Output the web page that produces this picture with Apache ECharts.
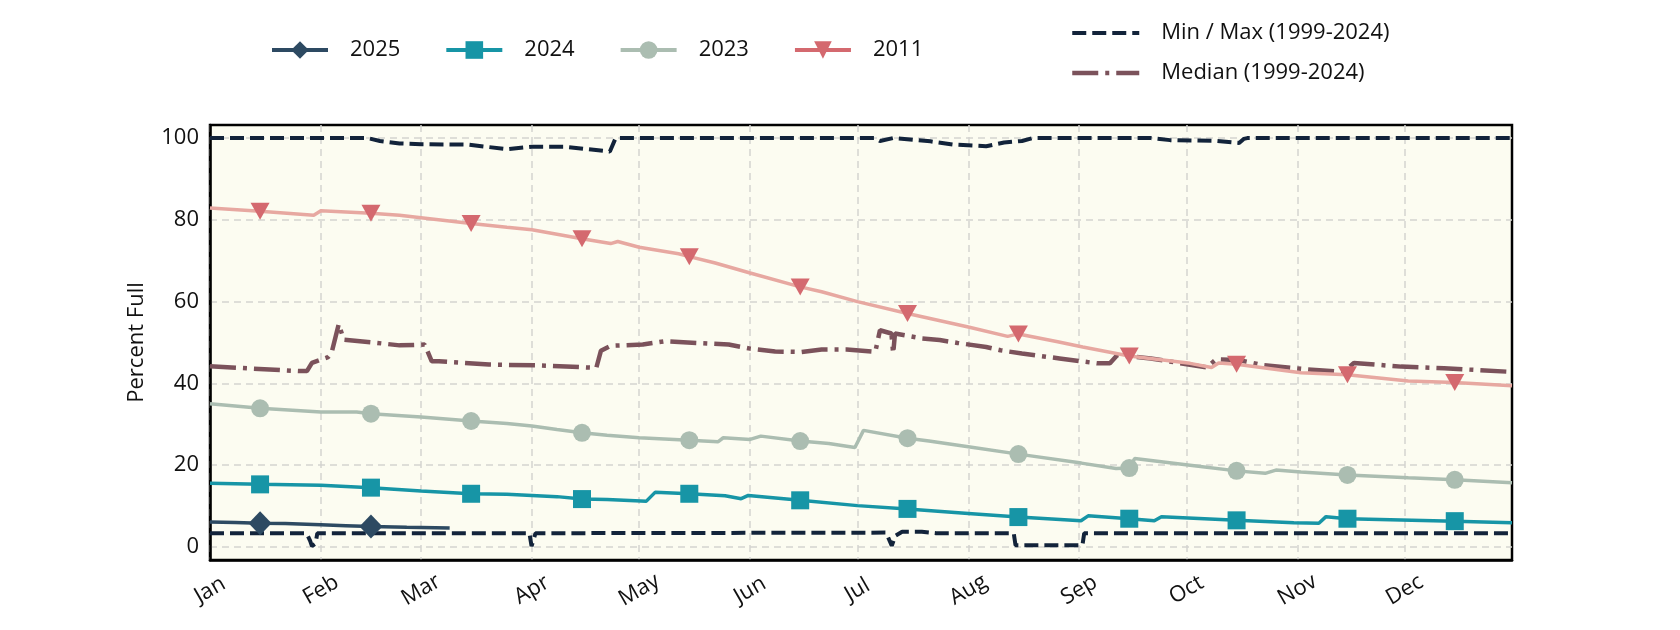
<!DOCTYPE html>
<html><head><meta charset="utf-8">
<script src="https://cdn.jsdelivr.net/npm/echarts@6/dist/echarts.min.js"></script>
<style>html,body{margin:0;padding:0;background:#fff}#c{width:1680px;height:630px}</style>
</head><body><div id="c"></div>
<script>
const FONT = 'Open Sans';
const monthNames = ['Jan','Feb','Mar','Apr','May','Jun','Jul','Aug','Sep','Oct','Nov','Dec'];
const yTicks = [0, 20, 40, 60, 80, 100];
// marker positions: 15th of each month (day of year, 0 = Jan 1)
const markerDays = [14, 45, 73, 104, 134, 165, 195, 226, 257, 287, 318, 348];

const days2025 = [0, 7, 14, 21, 31, 38, 45, 55, 67];
const vals2025 = [6.1, 6.0, 5.8, 5.7, 5.4, 5.2, 5.0, 4.8, 4.6];

const days2024 = [0, 14, 31, 38, 45, 59, 73, 83, 97, 104, 111, 122, 124.5, 134, 144, 148.5, 150.5, 165, 181, 195, 212, 226, 243.5, 245.5, 257, 264, 266, 287, 303, 310, 312, 318, 348, 364];
const vals2024 = [15.6, 15.3, 15.1, 14.8, 14.5, 13.7, 13.0, 12.9, 12.3, 11.7, 11.6, 11.2, 13.4, 13.0, 12.5, 11.8, 12.6, 11.4, 10.1, 9.3, 8.2, 7.3, 6.4, 7.6, 6.9, 6.4, 7.4, 6.5, 5.9, 5.8, 7.4, 6.9, 6.3, 5.9];

const days2023 = [0, 14, 31, 41, 45, 59, 73, 83, 90, 97, 104, 111, 120, 134, 142, 143.5, 151, 154, 165, 173, 180.3, 182.7, 195, 201, 212, 226, 243.6, 253.3, 257, 258.5, 274, 287, 295, 298, 305, 318, 335, 348, 364];
const vals2023 = [35.0, 33.9, 33.0, 33.0, 32.6, 31.8, 30.8, 30.2, 29.6, 28.7, 27.9, 27.3, 26.7, 26.1, 25.7, 26.7, 26.3, 27.1, 25.9, 25.3, 24.3, 28.5, 26.6, 25.9, 24.5, 22.7, 20.5, 19.2, 19.3, 21.6, 20.0, 18.6, 18.0, 18.8, 18.3, 17.6, 16.9, 16.4, 15.7];

const days2011 = [0, 14, 29, 31, 45, 53, 59, 73, 83, 90, 104, 112, 114, 120, 131, 134, 141, 151, 165, 171, 181, 195, 212, 223, 226, 237, 244, 257, 274, 280, 282, 287, 305, 318, 335, 348, 364];
const vals2011 = [82.9, 82.1, 81.1, 82.2, 81.6, 81.1, 80.5, 79.1, 78.2, 77.6, 75.4, 74.2, 74.7, 73.3, 71.7, 71.0, 69.5, 67.0, 63.6, 62.4, 60.0, 57.1, 53.8, 51.5, 52.1, 50.2, 48.9, 46.7, 44.9, 43.9, 45.0, 44.7, 42.6, 42.1, 40.6, 40.2, 39.4];

const daysMedian = [0, 12, 24.8, 27.1, 28.5, 31, 33, 34, 36, 37.4, 46.7, 53, 60, 62, 64, 78, 92, 108, 109.3, 112, 121, 127, 145, 151, 158, 165.4, 171, 178, 186, 187.3, 190.5, 191, 191.5, 199, 204, 209, 217, 221, 227, 237.5, 248, 251.6, 253.6, 263, 278.7, 281.3, 287.7, 294, 307, 317, 319.8, 333, 345, 364];
const valsMedian = [44.2, 43.6, 43.0, 43.0, 45.0, 45.8, 46.4, 47.5, 54.5, 50.7, 49.9, 49.3, 49.5, 45.4, 45.4, 44.6, 44.4, 43.8, 48.0, 49.2, 49.5, 50.3, 49.5, 48.5, 47.8, 47.7, 48.3, 48.3, 47.7, 53.0, 52.2, 47.3, 52.2, 51.0, 50.6, 49.9, 48.9, 48.1, 47.3, 46.1, 44.9, 44.9, 46.9, 46.1, 43.9, 45.9, 45.7, 44.5, 43.4, 42.8, 45.0, 44.1, 43.7, 42.8];

const daysMax = [0, 44, 47.5, 53, 59, 72, 83, 90, 99, 111.8, 113.4, 186, 187.3, 191, 201.4, 208, 217, 222, 227, 230, 263, 268.4, 281.3, 287.7, 289, 290, 364];
const valsMax = [100, 100, 99.3, 98.7, 98.5, 98.4, 97.3, 97.9, 97.9, 96.7, 100, 100, 99.3, 100, 99.2, 98.4, 98.0, 98.9, 99.3, 100, 100, 99.5, 99.3, 98.8, 99.8, 100, 100];

const daysMin = [0, 27, 28, 28.5, 29.5, 30, 89.3, 89.9, 91, 189, 190.6, 191.6, 193.5, 199, 203, 224.7, 225.2, 243.9, 244.4, 364];
const valsMin = [3.35, 3.35, 1.5, 0.2, 0.8, 3.35, 3.35, 0.2, 3.35, 3.5, 0.3, 2.7, 3.7, 3.7, 3.35, 3.35, 0.4, 0.4, 3.35, 3.35];

const BASE = new Date(2025, 0, 1).getTime();
const DAY = 86400000;
function ts(d) { return BASE + d * DAY; }
function toData(days, vals, withMarkers) {
  return days.map(function (d, i) {
    const item = { value: [ts(d), vals[i]] };
    if (!withMarkers || markerDays.indexOf(d) < 0) item.symbol = 'none';
    return item;
  });
}

const MINMAX = 'Min / Max (1999-2024)';
const MEDIAN = 'Median (1999-2024)';
const txt = { fontFamily: FONT, fontSize: 22, color: '#111' };
const gridLine = { show: true, showMinLine: false, showMaxLine: false, lineStyle: { color: '#d4d4d0', width: 1.5, type: [7, 5] } };

const chart = echarts.init(document.getElementById('c'), null, { renderer: 'canvas' });
chart.setOption({
  animation: false,
  textStyle: { fontFamily: FONT },
  grid: { left: 210, right: 168, top: 125, bottom: 70, show: true, backgroundColor: '#fcfcf1', borderColor: '#000', borderWidth: 2.5 },
  legend: [
    {
      data: ['2025', '2024', '2023', { name: '2011', lineStyle: { color: '#d4696f', opacity: 1 } }],
      left: 270, top: 39, padding: 0, itemWidth: 56, itemHeight: 22, itemGap: 44,
      lineStyle: { width: 4 },
      textStyle: Object.assign({ padding: [0, 0, 0, 17], lineHeight: 22 }, txt)
    },
    {
      data: [
        { name: MINMAX, itemStyle: { opacity: 0 }, lineStyle: { width: 4 } },
        { name: MEDIAN, itemStyle: { opacity: 0 }, lineStyle: { width: 4.5 } }
      ],
      orient: 'vertical',
      left: 1070, top: 22, padding: 0, itemWidth: 67, itemHeight: 22, itemGap: 18,
      textStyle: Object.assign({ padding: [0, 0, 0, 17], lineHeight: 22 }, txt)
    }
  ],
  xAxis: {
    type: 'time', min: ts(0), max: ts(364), splitNumber: 12, z: 2,
    axisLine: { show: true, onZero: false, lineStyle: { color: '#000', width: 2.5 } }, axisTick: { show: false },
    axisLabel: Object.assign({
      rotate: 30, align: 'center', verticalAlign: 'middle', margin: 30,
      showMinLabel: true, showMaxLabel: false,
      formatter: function (v) { return monthNames[new Date(v).getMonth()]; }
    }, txt),
    splitLine: gridLine
  },
  yAxis: {
    type: 'value', min: -3.2, max: 103.2, splitNumber: 5, z: 3,
    name: 'Percent Full', nameLocation: 'middle', nameGap: 62,
    nameTextStyle: txt,
    axisLine: { show: true, onZero: false, lineStyle: { color: '#000', width: 2.5 } }, axisTick: { show: false },
    axisLabel: Object.assign({
      margin: 11, showMinLabel: false, showMaxLabel: false,
      formatter: function (v) { return yTicks.indexOf(Math.round(v * 1000) / 1000) >= 0 ? String(v) : ''; }
    }, txt),
    splitLine: gridLine
  },
  series: [
    { name: MINMAX, type: 'line', data: toData(daysMax, valsMax, false), symbol: 'none',
      lineStyle: { color: '#12233a', width: 4, type: [14, 6] }, itemStyle: { color: '#12233a' }, z: 10 },
    { name: MINMAX, type: 'line', data: toData(daysMin, valsMin, false), symbol: 'none',
      lineStyle: { color: '#12233a', width: 4, type: [14, 6] }, itemStyle: { color: '#12233a' }, z: 10 },
    { name: MEDIAN, type: 'line', data: toData(daysMedian, valsMedian, false), symbol: 'none',
      lineStyle: { color: '#7b525b', width: 4.5, type: [26, 7, 4, 7] }, itemStyle: { color: '#7b525b' }, z: 10 },
    { name: '2011', type: 'line', data: toData(days2011, vals2011, true),
      symbol: 'path://M0,0L10,0L5,9Z', symbolSize: [19, 17],
      lineStyle: { color: '#e7a8a1', width: 3.5 }, itemStyle: { color: '#d4696f' }, z: 11 },
    { name: '2023', type: 'line', data: toData(days2023, vals2023, true),
      symbol: 'circle', symbolSize: 18,
      lineStyle: { color: '#abbdb1', width: 3.5 }, itemStyle: { color: '#abbdb1' }, z: 11 },
    { name: '2024', type: 'line', data: toData(days2024, vals2024, true),
      symbol: 'rect', symbolSize: 18,
      lineStyle: { color: '#1795a6', width: 3.5 }, itemStyle: { color: '#1795a6' }, z: 12 },
    { name: '2025', type: 'line', data: toData(days2025, vals2025, true),
      symbol: 'diamond', symbolSize: [23, 24],
      lineStyle: { color: '#2d4a62', width: 3.5 }, itemStyle: { color: '#2d4a62' }, z: 13 }
  ]
});
</script></body></html>
